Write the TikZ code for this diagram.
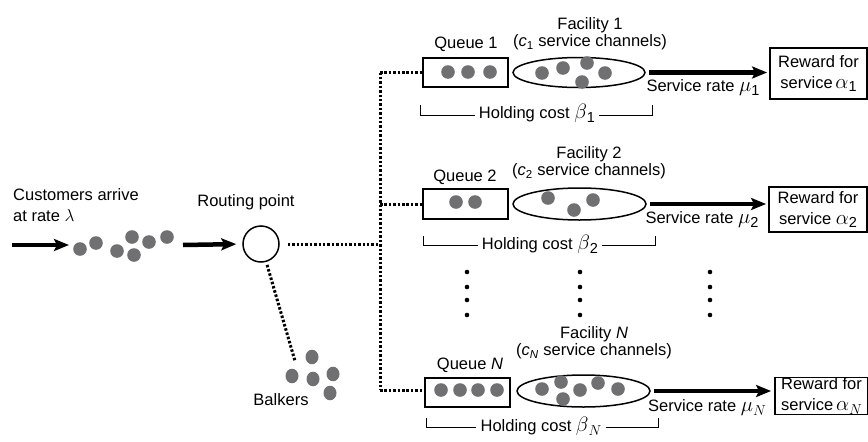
\documentclass[tikz,border=0pt]{standalone}
\usepackage{fontspec}
\setmainfont{Liberation Sans}
\usetikzlibrary{arrows.meta,shapes.geometric}
\definecolor{dotgray}{RGB}{112,112,114}
\newcommand{\gsym}[2]{{\fontsize{20}{20}\selectfont$#1$}\raisebox{-0.45ex}{\fontsize{14.5}{14.5}\selectfont #2}}
\newcommand{\gsymN}[1]{{\fontsize{20}{20}\selectfont$#1$}\raisebox{-0.45ex}{\fontsize{15}{15}\selectfont $N$}}
\begin{document}
\begin{tikzpicture}[x=1pt,y=-1pt,
  txt/.style={font=\fontsize{16.5}{17}\selectfont, inner sep=0pt, align=center},
  qbox/.style={draw, line width=2pt, minimum width=85pt, minimum height=29pt, inner sep=0pt},
  fac/.style={draw, ellipse, line width=1.5pt, minimum width=132pt, minimum height=30pt, inner sep=0pt},
  rbox/.style={draw, line width=1.8pt, align=center, inner sep=0pt, font=\fontsize{16.5}{21}\selectfont},
  flow/.style={line width=4.5pt, -{Stealth[length=15pt,width=12pt,inset=3pt]}},
  route/.style={line width=3pt, dash pattern=on 2.5pt off 1.9pt},
  thin/.style={line width=0.9pt},
  dot/.style={fill=dotgray},
  vdot/.style={fill=black}
]
\useasboundingbox (0,0) rectangle (868,442);

% ---------- left part ----------
\coordinate (in) at (12,245);
\coordinate (c1) at (69,245);
\coordinate (c2) at (183,245);
\node[txt, anchor=west, align=left, font=\fontsize{16.5}{21}\selectfont] (cust) at (13,205) {Customers arrive\\at rate {\fontsize{19}{19}\selectfont$\lambda$}};
\foreach \p in {(80,249),(96,243),(117,251),(132,237),(134,255),(149,242),(167,237)}
  \fill[dot] \p circle (6.8);
\draw[flow] (in) -- (c1);
\node[draw, circle, line width=1.5pt, minimum size=36pt, inner sep=0pt] (rp) at (261,244) {};
\node[txt] (rplab) at (246,202) {Routing point};
\draw[flow, shorten >=6pt] (c2) -- (rp.west);

% junction
\coordinate (jx) at (380,244);
\draw[route, shorten <=8pt] (rp.east) -- (jx);

% balkers
\coordinate (bk) at (295,361);
\draw[route, shorten <=3pt] (rp) -- (bk);
\foreach \p in {(292,376),(312,357),(313,379),(333,374),(330,393)}
  \fill[dot] \p ellipse (6.5 and 7.3);
\node[txt] (balk) at (281,400) {Balkers};

% ---------- queues ----------
\node[qbox] (q1) at (465.5,72.5) {};
\node[qbox, minimum height=30pt] (q2) at (465.5,204) {};
\node[qbox] (qN) at (467.5,392.5) {};
\node[txt] (q1l) at (466,44) {Queue 1};
\node[txt] (q2l) at (465,177) {Queue 2};
\node[txt] (qNl) at (470,365) {Queue \textit{N}};
\foreach \p in {(448,72),(468,72),(490,72),(456,202),(475,202),(441,390),(460,390),(478,390),(497,390)}
  \fill[dot] \p circle (6.8);

\path (jx |- q1) coordinate (j1);
\path (jx |- q2) coordinate (j2);
\path (380,390) coordinate (jN);
\draw[route] (j1) -- (jN);
\draw[route] (j1) -- (q1.west);
\draw[route] (j2) -- (q2.west);
\draw[route] (jN) -- (jN -| qN.west);

% ---------- facilities ----------
\node[fac] (e1) at (579,72.5) {};
\node[fac, minimum width=133pt, minimum height=32pt] (e2) at (579.5,204) {};
\node[fac, minimum width=133pt, minimum height=32pt] (eN) at (583.5,391) {};
\node[txt] (f1l) at (590,34) {Facility 1\\(\textit{c}\textsubscript{1} service channels)};
\node[txt] (f2l) at (589,163) {Facility 2\\(\textit{c}\textsubscript{2} service channels)};
\node[txt] (fNl) at (594,343) {Facility \textit{N}\\(\textit{c}\textsubscript{\textit{N}} service channels)};
\foreach \p in {(542,73),(563,68),(587,63),(582,82),(605,73),
                (548,198),(574,210),(593,200),
                (542,389),(561,382),(563,399),(580,390),(598,383),(618,389)}
  \fill[dot] \p circle (6.8);

% ---------- rewards ----------
\node[rbox, minimum width=97pt, minimum height=51pt] (r1) at (818.5,73.5) {Reward for\\service\,\gsym{\alpha}{1}};
\node[rbox, minimum width=98pt, minimum height=45pt] (r2) at (818,209.5) {Reward for\\service \gsym{\alpha}{2}};
\node[rbox, minimum width=93pt, minimum height=34pt] (rN) at (821.5,396) {Reward for\\service\,\gsymN{\alpha}};

\draw[flow, shorten <=3pt, shorten >=2pt] (e1.east) -- (e1.east -| r1.west);
\draw[flow, shorten <=3pt, shorten >=2pt] (e2.east) -- (e2.east -| r2.west);
\draw[flow, shorten <=3pt, shorten >=3pt] (eN.east) -- (eN.east -| rN.west);

\node[txt] (s1) at (703,88) {Service rate \gsym{\mu}{1}};
\node[txt] (s2) at (702,220) {Service rate \gsym{\mu}{2}};
\node[txt] (sN) at (707,408) {Service rate \gsymN{\mu}};

% ---------- holding cost ----------
\node[txt, inner xsep=4pt, fill=white] (h1) at (537,113) {Holding cost \gsym{\beta}{1}};
\node[txt, inner xsep=4pt, fill=white] (h2) at (540,244) {Holding cost \gsym{\beta}{2}};
\node[txt, inner xsep=4pt, fill=white] (hN) at (541,426) {Holding cost \gsymN{\beta}};
\coordinate (h1a) at (420,105); \coordinate (h1b) at (652,105);
\coordinate (h2a) at (423,236); \coordinate (h2b) at (655,236);
\coordinate (hNa) at (426,418); \coordinate (hNb) at (658,418);
\draw[thin] (h1a) -- (420,115) -- (420,115 -| h1.west);
\draw[thin] (h1.east |- 0,115) -- (652,115) -- (h1b);
\draw[thin] (h2a) -- (423,245) -- (423,245 -| h2.west);
\draw[thin] (h2.east |- 0,245) -- (655,245) -- (h2b);
\draw[thin] (hNa) -- (426,427) -- (426,427 -| hN.west);
\draw[thin] (hN.east |- 0,427) -- (658,427) -- (hNb);

% ---------- vertical ellipsis dots ----------
\foreach \x in {467,580,710}
  \foreach \y in {272,287,300,315}
    \fill[vdot] (\x,\y) circle (2.3);
\end{tikzpicture}
\end{document}
